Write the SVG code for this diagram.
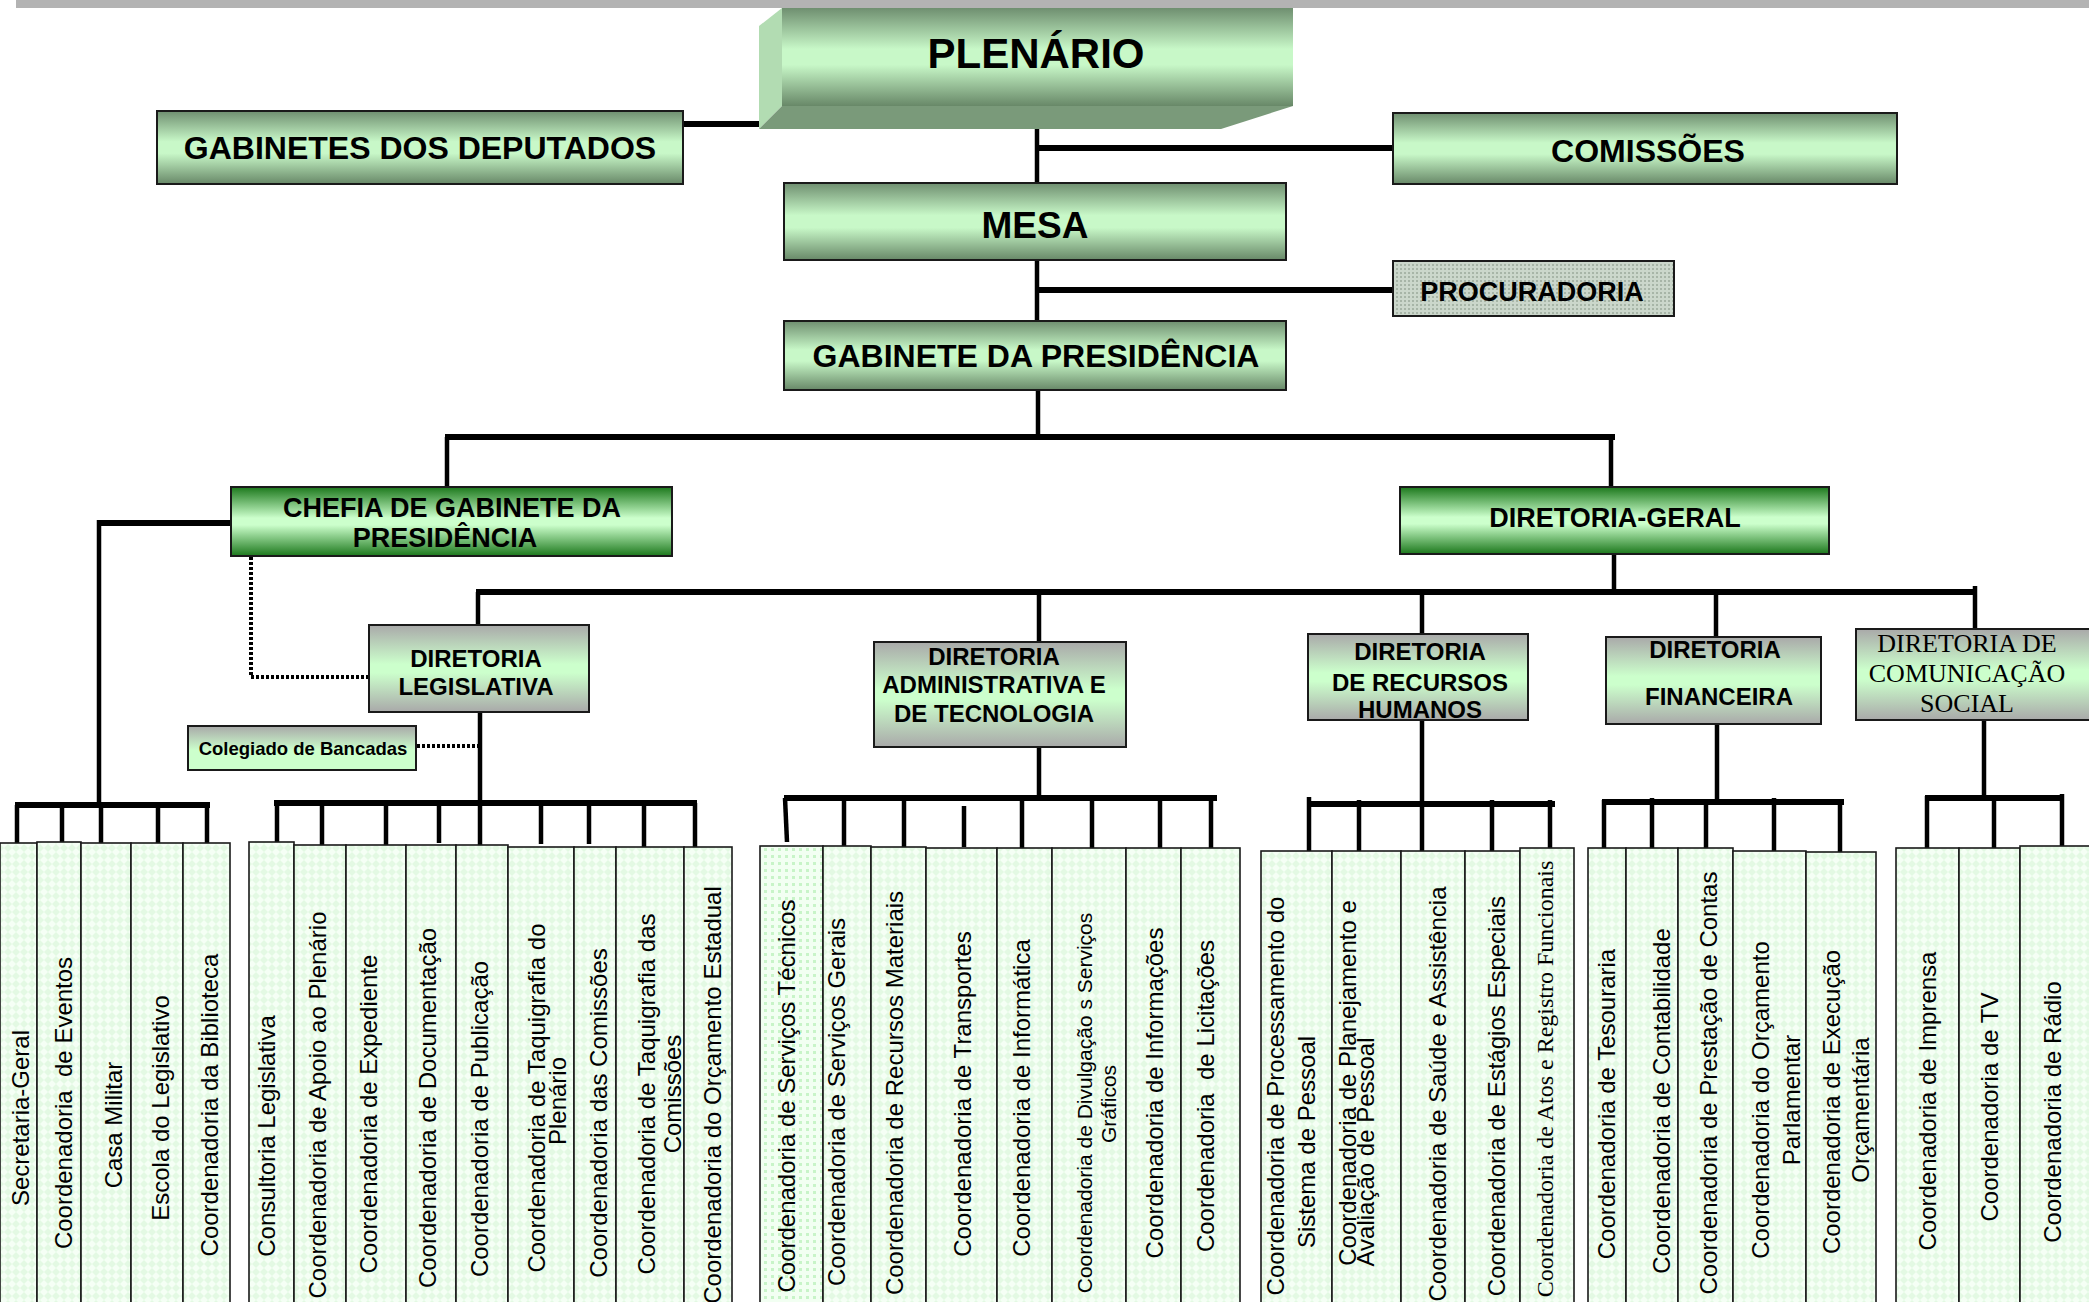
<svg xmlns="http://www.w3.org/2000/svg" width="2089" height="1302" viewBox="0 0 2089 1302">
<defs>
<linearGradient id="gMain" x1="0" y1="0" x2="0" y2="1">
<stop offset="0" stop-color="#6f8f70"/><stop offset="0.42" stop-color="#c8f8c8"/><stop offset="0.58" stop-color="#c8f8c8"/><stop offset="1" stop-color="#688868"/>
</linearGradient>
<linearGradient id="gGreen" x1="0" y1="0" x2="0" y2="1">
<stop offset="0" stop-color="#1c781c"/><stop offset="0.45" stop-color="#ccffcc"/><stop offset="0.55" stop-color="#ccffcc"/><stop offset="1" stop-color="#1c781c"/>
</linearGradient>
<linearGradient id="gGray" x1="0" y1="0" x2="0" y2="1">
<stop offset="0" stop-color="#a9a9a9"/><stop offset="0.45" stop-color="#ccffcc"/><stop offset="0.55" stop-color="#ccffcc"/><stop offset="1" stop-color="#a9a9a9"/>
</linearGradient>
<linearGradient id="gCol" x1="0" y1="0" x2="0" y2="1">
<stop offset="0" stop-color="#a8a8a8"/><stop offset="0.55" stop-color="#ccffcc"/><stop offset="1" stop-color="#ccffcc"/>
</linearGradient>
<pattern id="pLeaf" patternUnits="userSpaceOnUse" width="8" height="8">
<rect width="8" height="8" fill="#e3f9e3"/><path d="M0 4 L4 0 L8 4 L4 8 Z" fill="#f5fff5"/>
</pattern>
<pattern id="pDots" patternUnits="userSpaceOnUse" width="7" height="7">
<rect width="7" height="7" fill="#f2fff2"/><rect x="1" y="1" width="3" height="3" fill="#c8f4c8"/>
</pattern>
<pattern id="pProc" patternUnits="userSpaceOnUse" width="4" height="4">
<rect width="4" height="4" fill="#cbd7cb"/><rect width="2" height="2" fill="#a7b5a7"/>
</pattern>
<style>
.box{stroke:#1a1a1a;stroke-width:2}
.tm{font-family:"Liberation Sans",Arial,sans-serif;font-weight:bold;fill:#000;text-anchor:middle}
.ts{font-family:"Liberation Serif","Times New Roman",serif;fill:#000;text-anchor:middle}
.leaf rect{fill:url(#pLeaf);stroke:#1a1a1a;stroke-width:1.6}
.leaf text{font-family:"Liberation Sans",Arial,sans-serif;font-size:24px;fill:#000;text-anchor:middle}
.leaf text.serif{font-family:"Liberation Serif","Times New Roman",serif}
.leaf text.sm{font-size:21px}
#connectors line,#connectors path{stroke:#000;fill:none;stroke-linecap:butt}
.bar{stroke-width:6}
.drop{stroke-width:4.5}
.dot{stroke-width:4;stroke-dasharray:3 2}
</style>
</defs>
<rect x="0" y="0" width="2089" height="1302" fill="#fff"/>
<rect x="16" y="0" width="2073" height="8" fill="#b3b3b3"/>

<g id="connectors">
<line class="bar" x1="683" y1="124" x2="760" y2="124"/>
<line class="drop" x1="1037" y1="116" x2="1037" y2="184"/>
<line class="bar" x1="1037" y1="148" x2="1393" y2="148"/>
<line class="drop" x1="1037" y1="260" x2="1037" y2="322"/>
<line class="bar" x1="1037" y1="290" x2="1393" y2="290"/>
<line class="drop" x1="1038" y1="390" x2="1038" y2="437"/>
<line class="bar" x1="445" y1="437" x2="1615" y2="437"/>
<line class="drop" x1="447" y1="437" x2="447" y2="488"/>
<line class="drop" x1="1611" y1="437" x2="1611" y2="488"/>
<line class="bar" x1="97" y1="523" x2="231" y2="523"/>
<line class="drop" x1="99" y1="520" x2="99" y2="807"/>
<line class="drop" x1="1614" y1="554" x2="1614" y2="592"/>
<line class="bar" x1="476" y1="592" x2="1977" y2="592"/>
<line class="drop" x1="478" y1="592" x2="478" y2="626"/>
<line class="drop" x1="1039" y1="592" x2="1039" y2="643"/>
<line class="drop" x1="1422" y1="592" x2="1422" y2="635"/>
<line class="drop" x1="1716" y1="592" x2="1716" y2="638"/>
<line class="drop" x1="1975" y1="586" x2="1975" y2="630"/>
<path class="dot" d="M251 557 V677 H368"/>
<line class="dot" x1="417" y1="746" x2="478" y2="746"/>
<line class="drop" x1="480" y1="712" x2="480" y2="800"/>
<line class="drop" x1="1039" y1="747" x2="1039" y2="798"/>
<line class="drop" x1="1422" y1="720" x2="1422" y2="855"/>
<line class="drop" x1="1717" y1="724" x2="1717" y2="802"/>
<line class="drop" x1="1984" y1="720" x2="1984" y2="798"/>
<!-- group 1 -->
<line class="bar" x1="15" y1="805" x2="210" y2="805"/>
<line class="drop" x1="17" y1="805" x2="17" y2="843"/>
<line class="drop" x1="62" y1="805" x2="62" y2="842"/>
<line class="drop" x1="101" y1="805" x2="101" y2="843"/>
<line class="drop" x1="158" y1="805" x2="158" y2="843"/>
<line class="drop" x1="207" y1="805" x2="207" y2="843"/>
<!-- group 2 -->
<line class="bar" x1="274" y1="803" x2="697" y2="803"/>
<line class="drop" x1="277" y1="803" x2="277" y2="842"/>
<line class="drop" x1="322" y1="803" x2="322" y2="846"/>
<line class="drop" x1="386" y1="803" x2="386" y2="846"/>
<line class="drop" x1="439" y1="803" x2="439" y2="843"/>
<line class="drop" x1="480" y1="803" x2="480" y2="847"/>
<line class="drop" x1="541" y1="803" x2="541" y2="844"/>
<line class="drop" x1="589" y1="803" x2="589" y2="844"/>
<line class="drop" x1="644" y1="803" x2="644" y2="847"/>
<line class="drop" x1="695" y1="803" x2="695" y2="847"/>
<!-- group 3 -->
<line class="bar" x1="784" y1="798" x2="1217" y2="798"/>
<line class="drop" x1="785" y1="798" x2="787" y2="842"/>
<line class="drop" x1="844" y1="798" x2="844" y2="846"/>
<line class="drop" x1="904" y1="798" x2="904" y2="850"/>
<line class="drop" x1="964" y1="806" x2="964" y2="847"/>
<line class="drop" x1="1022" y1="798" x2="1022" y2="851"/>
<line class="drop" x1="1092" y1="798" x2="1092" y2="849"/>
<line class="drop" x1="1160" y1="798" x2="1160" y2="849"/>
<line class="drop" x1="1211" y1="798" x2="1211" y2="849"/>
<!-- group 4 -->
<line class="bar" x1="1307" y1="804" x2="1555" y2="804"/>
<line class="drop" x1="1309" y1="797" x2="1309" y2="851"/>
<line class="drop" x1="1359" y1="800" x2="1359" y2="853"/>
<line class="drop" x1="1492" y1="800" x2="1492" y2="851"/>
<line class="drop" x1="1550" y1="800" x2="1550" y2="853"/>
<!-- group 5 -->
<line class="bar" x1="1602" y1="802" x2="1844" y2="802"/>
<line class="drop" x1="1604" y1="800" x2="1604" y2="853"/>
<line class="drop" x1="1652" y1="798" x2="1652" y2="849"/>
<line class="drop" x1="1706" y1="802" x2="1706" y2="849"/>
<line class="drop" x1="1774" y1="798" x2="1774" y2="851"/>
<line class="drop" x1="1840" y1="800" x2="1840" y2="852"/>
<!-- group 6 -->
<line class="bar" x1="1925" y1="798" x2="2064" y2="798"/>
<line class="drop" x1="1927" y1="796" x2="1927" y2="849"/>
<line class="drop" x1="1994" y1="798" x2="1994" y2="848"/>
<line class="drop" x1="2062" y1="794" x2="2062" y2="846"/>
</g>

<g id="plenario">
<polygon points="782,8 759,26 759,129 782,106" fill="#b2dcb2"/>
<polygon points="782,106 1293,106 1221,129 759,129" fill="#7a9a7a"/>
<rect x="782" y="8" width="511" height="98" fill="url(#gMain)"/>
<text class="tm" x="1036" y="68" font-size="42">PLENÁRIO</text>
</g>
<g id="gabinetes-deputados">
<rect class="box" x="157" y="111" width="526" height="73" fill="url(#gMain)"/>
<text class="tm" x="420" y="159" font-size="32">GABINETES DOS DEPUTADOS</text>
</g>
<g id="comissoes">
<rect class="box" x="1393" y="113" width="504" height="71" fill="url(#gMain)"/>
<text class="tm" x="1648" y="162" font-size="32">COMISSÕES</text>
</g>
<g id="mesa">
<rect class="box" x="784" y="183" width="502" height="77" fill="url(#gMain)"/>
<text class="tm" x="1035" y="238" font-size="37">MESA</text>
</g>
<g id="procuradoria">
<rect class="box" x="1393" y="261" width="281" height="55" fill="url(#pProc)"/>
<text class="tm" x="1532" y="301" font-size="27">PROCURADORIA</text>
</g>
<g id="gabinete-presidencia">
<rect class="box" x="784" y="321" width="502" height="69" fill="url(#gMain)"/>
<text class="tm" x="1036" y="367" font-size="32">GABINETE DA PRESIDÊNCIA</text>
</g>
<g id="chefia">
<rect class="box" x="231" y="487" width="441" height="69" fill="url(#gGreen)"/>
<text class="tm" x="452" y="517" font-size="27">CHEFIA DE GABINETE DA</text>
<text class="tm" x="445" y="547" font-size="27">PRESIDÊNCIA</text>
</g>
<g id="diretoria-geral">
<rect class="box" x="1400" y="487" width="429" height="67" fill="url(#gGreen)"/>
<text class="tm" x="1615" y="527" font-size="27">DIRETORIA-GERAL</text>
</g>
<g id="diretoria-legislativa">
<rect class="box" x="369" y="625" width="220" height="87" fill="url(#gGray)"/>
<text class="tm" x="476" y="667" font-size="24">DIRETORIA</text>
<text class="tm" x="476" y="695" font-size="24">LEGISLATIVA</text>
</g>
<g id="colegiado">
<rect class="box" x="188" y="726" width="228" height="44" fill="url(#gCol)"/>
<text class="tm" x="303" y="755" font-size="18.5">Colegiado de Bancadas</text>
</g>
<g id="diretoria-administrativa">
<rect class="box" x="874" y="642" width="252" height="105" fill="url(#gGray)"/>
<text class="tm" x="994" y="665" font-size="24">DIRETORIA</text>
<text class="tm" x="994" y="693" font-size="24">ADMINISTRATIVA E</text>
<text class="tm" x="994" y="722" font-size="24">DE TECNOLOGIA</text>
</g>
<g id="diretoria-rh">
<rect class="box" x="1308" y="634" width="220" height="86" fill="url(#gGray)"/>
<text class="tm" x="1420" y="660" font-size="24">DIRETORIA</text>
<text class="tm" x="1420" y="691" font-size="24">DE RECURSOS</text>
<text class="tm" x="1420" y="718" font-size="24">HUMANOS</text>
</g>
<g id="diretoria-financeira">
<rect class="box" x="1606" y="637" width="215" height="87" fill="url(#gGray)"/>
<text class="tm" x="1715" y="658" font-size="24">DIRETORIA</text>
<text class="tm" x="1719" y="705" font-size="24">FINANCEIRA</text>
</g>
<g id="diretoria-comunicacao">
<rect class="box" x="1856" y="629" width="240" height="91" fill="url(#gGray)"/>
<text class="ts" x="1967" y="652" font-size="26">DIRETORIA DE</text>
<text class="ts" x="1967" y="682" font-size="26">COMUNICAÇÃO</text>
<text class="ts" x="1967" y="712" font-size="26">SOCIAL</text>
</g>

<g id="leaf-01" class="leaf"><rect x="0" y="843" width="37" height="470"/><text transform="translate(20,1118) rotate(-90)" y="8.5">Secretaria-Geral</text></g>
<g id="leaf-02" class="leaf"><rect x="37" y="842" width="44" height="470"/><text transform="translate(63,1103) rotate(-90)" y="8.5" xml:space="preserve">Coordenadoria  de Eventos</text></g>
<g id="leaf-03" class="leaf"><rect x="81" y="843" width="50" height="470"/><text transform="translate(113,1125) rotate(-90)" y="8.5">Casa Militar</text></g>
<g id="leaf-04" class="leaf"><rect x="131" y="843" width="52" height="470"/><text transform="translate(160,1108) rotate(-90)" y="8.5">Escola do Legislativo</text></g>
<g id="leaf-05" class="leaf"><rect x="183" y="843" width="47" height="470"/><text transform="translate(209,1105) rotate(-90)" y="8.5">Coordenadoria da Biblioteca</text></g>

<g id="leaf-06" class="leaf"><rect x="249" y="842" width="45" height="470"/><text transform="translate(266,1136) rotate(-90)" y="8.5">Consultoria Legislativa</text></g>
<g id="leaf-07" class="leaf"><rect x="294" y="845" width="52" height="470"/><text transform="translate(317,1105) rotate(-90)" y="8.5">Coordenadoria de Apoio ao Plenário</text></g>
<g id="leaf-08" class="leaf"><rect x="346" y="845" width="60" height="470"/><text transform="translate(368,1114) rotate(-90)" y="8.5">Coordenadoria de Expediente</text></g>
<g id="leaf-09" class="leaf"><rect x="406" y="845" width="50" height="470"/><text transform="translate(427,1108) rotate(-90)" y="8.5">Coordenadoria de Documentação</text></g>
<g id="leaf-10" class="leaf"><rect x="456" y="845" width="52" height="470"/><text transform="translate(479,1119) rotate(-90)" y="8.5">Coordenadoria de Publicação</text></g>
<g id="leaf-11" class="leaf"><rect x="508" y="847" width="66" height="470"/><text transform="translate(536,1098) rotate(-90)" y="8.5">Coordenadoria de Taquigrafia do</text><text transform="translate(557,1101) rotate(-90)" y="8.5">Plenário</text></g>
<g id="leaf-12" class="leaf"><rect x="574" y="847" width="42" height="470"/><text transform="translate(598,1113) rotate(-90)" y="8.5">Coordenadoria das Comissões</text></g>
<g id="leaf-13" class="leaf"><rect x="616" y="847" width="68" height="470"/><text transform="translate(646,1094) rotate(-90)" y="8.5">Coordenadoria de Taquigrafia das</text><text transform="translate(672,1094) rotate(-90)" y="8.5">Comissões</text></g>
<g id="leaf-14" class="leaf"><rect x="684" y="847" width="48" height="470"/><text transform="translate(712,1095) rotate(-90)" y="8.5">Coordenadoria do Orçamento Estadual</text></g>

<g id="leaf-15" class="leaf"><rect x="760" y="846" width="63" height="470" style="fill:url(#pDots)"/><text transform="translate(786,1096) rotate(-90)" y="8.5">Coordenadoria de Serviços Técnicos</text></g>
<g id="leaf-16" class="leaf"><rect x="823" y="846" width="48" height="470"/><text transform="translate(836,1102) rotate(-90)" y="8.5">Coordenadoria de Serviços Gerais</text></g>
<g id="leaf-17" class="leaf"><rect x="871" y="847" width="55" height="470"/><text transform="translate(894,1093) rotate(-90)" y="8.5">Coordenadoria de Recursos Materiais</text></g>
<g id="leaf-18" class="leaf"><rect x="926" y="848" width="71" height="470"/><text transform="translate(962,1094) rotate(-90)" y="8.5">Coordenadoria de Transportes</text></g>
<g id="leaf-19" class="leaf"><rect x="997" y="848" width="55" height="470"/><text transform="translate(1021,1098) rotate(-90)" y="8.5">Coordenadoria de Informática</text></g>
<g id="leaf-20" class="leaf"><rect x="1052" y="848" width="74" height="470"/><text class="sm" transform="translate(1084,1103) rotate(-90)" y="7.5">Coordenadoria de Divulgação s Serviços</text><text class="sm" transform="translate(1108,1104) rotate(-90)" y="7.5">Gráficos</text></g>
<g id="leaf-21" class="leaf"><rect x="1126" y="848" width="55" height="470"/><text transform="translate(1154,1093) rotate(-90)" y="8.5">Coordenadoria de Informações</text></g>
<g id="leaf-22" class="leaf"><rect x="1181" y="848" width="59" height="470"/><text transform="translate(1205,1096) rotate(-90)" y="8.5" xml:space="preserve">Coordenadoria  de Licitações</text></g>

<g id="leaf-23" class="leaf"><rect x="1261" y="851" width="71" height="470"/><text transform="translate(1275,1096) rotate(-90)" y="8.5">Coordenadoria de Processamento do</text><text transform="translate(1306,1142) rotate(-90)" y="8.5">Sistema de Pessoal</text></g>
<g id="leaf-24" class="leaf"><rect x="1332" y="851" width="69" height="470"/><text transform="translate(1347,1083) rotate(-90)" y="8.5">Coordenadoria de Planejamento e</text><text transform="translate(1365,1152) rotate(-90)" y="8.5">Avaliação de Pessoal</text></g>
<g id="leaf-25" class="leaf"><rect x="1401" y="851" width="64" height="470"/><text transform="translate(1437,1094) rotate(-90)" y="8.5">Coordenadoria de Saúde e Assistência</text></g>
<g id="leaf-26" class="leaf"><rect x="1465" y="851" width="55" height="470"/><text transform="translate(1496,1096) rotate(-90)" y="8.5">Coordenadoria de Estágios Especiais</text></g>
<g id="leaf-27" class="leaf"><rect x="1520" y="848" width="54" height="470"/><text class="serif" transform="translate(1544,1079) rotate(-90)" y="8.5">Coordenadoria de Atos e Registro Funcionais</text></g>

<g id="leaf-28" class="leaf"><rect x="1588" y="848" width="38" height="470"/><text transform="translate(1606,1104) rotate(-90)" y="8.5">Coordenadoria de Tesouraria</text></g>
<g id="leaf-29" class="leaf"><rect x="1626" y="848" width="52" height="470"/><text transform="translate(1661,1101) rotate(-90)" y="8.5">Coordenadoria de Contabilidade</text></g>
<g id="leaf-30" class="leaf"><rect x="1678" y="848" width="55" height="470"/><text transform="translate(1708,1083) rotate(-90)" y="8.5">Coordenadoria de Prestação de Contas</text></g>
<g id="leaf-31" class="leaf"><rect x="1733" y="851" width="73" height="470"/><text transform="translate(1760,1100) rotate(-90)" y="8.5">Coordenadoria do Orçamento</text><text transform="translate(1791,1100) rotate(-90)" y="8.5">Parlamentar</text></g>
<g id="leaf-32" class="leaf"><rect x="1806" y="852" width="70" height="470"/><text transform="translate(1831,1102) rotate(-90)" y="8.5">Coordenadoria de Execução</text><text transform="translate(1860,1110) rotate(-90)" y="8.5">Orçamentária</text></g>

<g id="leaf-33" class="leaf"><rect x="1896" y="848" width="63" height="470"/><text transform="translate(1927,1101) rotate(-90)" y="8.5">Coordenadoria de Imprensa</text></g>
<g id="leaf-34" class="leaf"><rect x="1959" y="848" width="61" height="470"/><text transform="translate(1989,1107) rotate(-90)" y="8.5">Coordenadoria de TV</text></g>
<g id="leaf-35" class="leaf"><rect x="2020" y="846" width="75" height="470"/><text transform="translate(2052,1112) rotate(-90)" y="8.5">Coordenadoria de Rádio</text></g>
</svg>
